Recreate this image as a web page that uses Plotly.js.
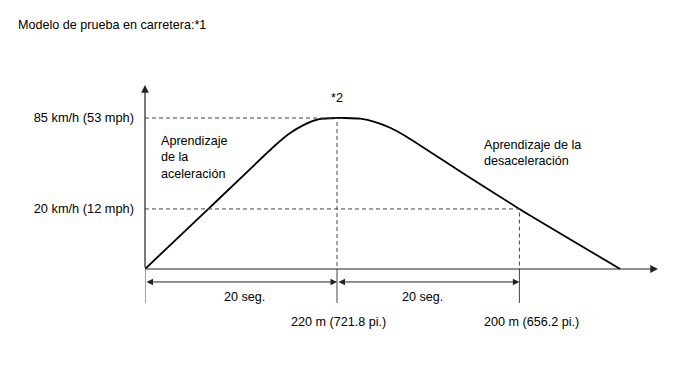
<!DOCTYPE html>
<html>
<head>
<meta charset="utf-8">
<script src="https://cdn.plot.ly/plotly-3.0.1.min.js"></script>
<style>html,body{margin:0;padding:0;background:#fff;}#chart{width:688px;height:366px;}</style>
</head>
<body>
<div id="chart"></div>
<script>
// ---- data (time in s, vertical in diagram level units) ----
var titleText = 'Modelo de prueba en carretera:*1';
var curveT = [0, 6.77, 13.54, 15.08, 16.61, 18.15, 20, 20.83, 22.42, 23.99, 25.54, 27.08, 33.0, 39, 49.5];
var curveLevel = [0, 34.7, 69.5, 76.4, 81.3, 84.3, 85, 85, 84.6, 82.7, 79.5, 75.0, 54.3, 33.8, 0];
var levelMarks = [33.8, 85];
var speedLabels = ['20 km/h (12 mph)', '85 km/h (53 mph)'];
var timeMarks = [0, 20, 39];
var segmentLabels = ['20 seg.', '20 seg.'];
var segmentLabelT = [10.4, 28.9];
var distanceLabels = ['220 m (721.8 pi.)', '200 m (656.2 pi.)'];
var distanceLabelT = [20.2, 40.3];
var phaseLabels = ['Aprendizaje<br>de la<br>aceleración', 'Aprendizaje de la<br>desaceleración'];
var phaseLabelT = [1.46, 35.1];
var phaseLabelLevel = [62.5, 65.3];
var peakNote = '*2';

// ---- layout constants ----
var xMax = 53.646, yMin = -39.97, yMax = 106.39;
var axisTipT = 53.44, axisTipLevel = 103.6;
var dimLevel = -7.3, tickBottom = -19.1;
var segLabelLevel = -15.8, distLabelLevel = -29.8;
var font = 'Liberation Sans, Arial, sans-serif';
var fs = 12.6;

var traces = [];
// main curve
traces.push({x: curveT, y: curveLevel, mode: 'lines', line: {color: '#000', width: 1.8, shape: 'spline', smoothing: 0.5}, hoverinfo: 'skip'});
// dashed guides
var peakIdx = curveLevel.indexOf(Math.max.apply(null, curveLevel));
traces.push({x: [0, timeMarks[1], timeMarks[1]], y: [levelMarks[1], levelMarks[1], 0], mode: 'lines', line: {color: '#444', width: 1, dash: '4px,3px'}, hoverinfo: 'skip'});
traces.push({x: [0, timeMarks[2], timeMarks[2]], y: [levelMarks[0], levelMarks[0], 0], mode: 'lines', line: {color: '#444', width: 1, dash: '4px,3px'}, hoverinfo: 'skip'});
// tick lines below axis
timeMarks.forEach(function (t) {
  traces.push({x: [t, t], y: [0, tickBottom], mode: 'lines', line: {color: '#444', width: 1}, hoverinfo: 'skip'});
});

var ann = [];
// axes with arrowheads
ann.push({x: axisTipT, y: 0, ax: 0, ay: 0, xref: 'x', yref: 'y', axref: 'x', ayref: 'y', text: '', showarrow: true, arrowhead: 2, arrowsize: 1.3, arrowwidth: 1.2, arrowcolor: '#222'});
ann.push({x: 0, y: axisTipLevel, ax: 0, ay: 0, xref: 'x', yref: 'y', axref: 'x', ayref: 'y', text: '', showarrow: true, arrowhead: 2, arrowsize: 1.3, arrowwidth: 1.2, arrowcolor: '#222'});
// dimension arrows
for (var i = 0; i < 2; i++) {
  ann.push({x: timeMarks[i + 1], y: dimLevel, ax: timeMarks[i], ay: dimLevel, xref: 'x', yref: 'y', axref: 'x', ayref: 'y', text: '', showarrow: true, arrowhead: 2, startarrowhead: 2, arrowside: 'end+start', arrowsize: 1.3, startarrowsize: 1.3, arrowwidth: 1, arrowcolor: '#222'});
  ann.push({x: segmentLabelT[i], y: segLabelLevel, text: segmentLabels[i], showarrow: false, xanchor: 'center', yanchor: 'middle', font: {family: font, size: fs, color: '#000'}});
  ann.push({x: distanceLabelT[i], y: distLabelLevel, text: distanceLabels[i], showarrow: false, xanchor: 'center', yanchor: 'middle', font: {family: font, size: fs, color: '#000'}});
  ann.push({x: phaseLabelT[i], y: phaseLabelLevel[i], text: phaseLabels[i], showarrow: false, xanchor: 'left', yanchor: 'middle', align: 'left', font: {family: font, size: fs, color: '#000'}});
}
ann.push({x: curveT[peakIdx], y: 96.3, text: peakNote, showarrow: false, xanchor: 'center', yanchor: 'middle', font: {family: font, size: fs, color: '#000'}});

var layout = {
  width: 688, height: 366,
  margin: {l: 145, r: 28, t: 80, b: 26, pad: 0},
  paper_bgcolor: '#fff', plot_bgcolor: '#fff',
  showlegend: false, hovermode: false,
  title: {text: titleText, x: 18 / 688, xanchor: 'left', xref: 'container', y: 1 - 25 / 366, yanchor: 'middle', yref: 'container', font: {family: font, size: fs, color: '#000'}},
  xaxis: {range: [0, xMax], showgrid: false, zeroline: false, showline: false, showticklabels: false, ticks: '', fixedrange: true},
  yaxis: {range: [yMin, yMax], showgrid: false, zeroline: false, showline: false, ticks: '', tickmode: 'array', tickvals: levelMarks, ticktext: speedLabels, ticklabelstandoff: 10, tickfont: {family: font, size: 12.8, color: '#000'}, fixedrange: true},
  annotations: ann
};

Plotly.newPlot('chart', traces, layout, {displayModeBar: false, staticPlot: true});
</script>
</body>
</html>
